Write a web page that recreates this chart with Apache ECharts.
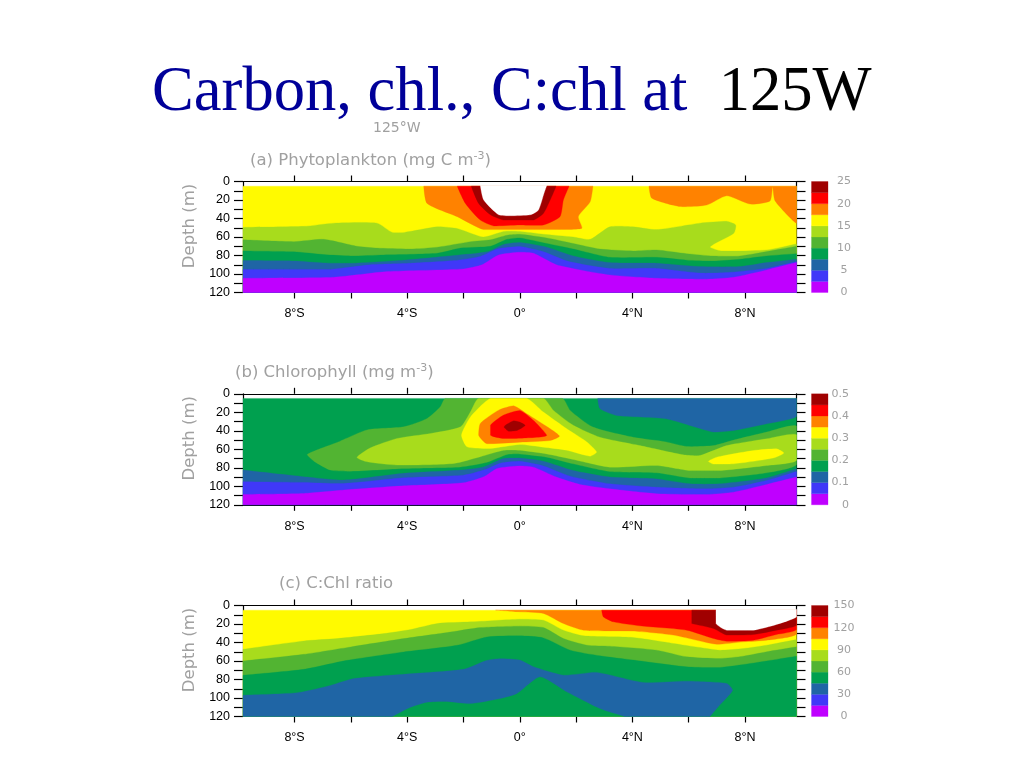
<!DOCTYPE html>
<html>
<head>
<meta charset="utf-8">
<title>Carbon, chl., C:chl at 125W</title>
<script src="https://cdn.jsdelivr.net/npm/echarts@6/dist/echarts.min.js"></script>
<style>
  html, body { margin: 0; padding: 0; background: #fff; }
  #chart { width: 1024px; height: 768px; }
</style>
</head>
<body>
<div id="chart"></div>
<script type="text/javascript">
// axis values
var latMin = -9.83, latMax = 9.83;
var latLabels = [-8, -4, 0, 4, 8];
var latTicks = [-8, -6, -4, -2, 0, 2, 4, 6, 8];

// contour colours, index 0 = lowest band
var bandColors = ['#bf00ff', '#4038f8', '#1f65a5', '#00a04f', '#52b432',
                  '#a8dc1c', '#fffa00', '#ff8200', '#ff0000', '#a00000'];

// colour bar edges and labels
var barA = [0, 2.5, 5, 7.5, 10, 12.5, 15, 17.5, 20, 22.5, 25];
var barB = [0, 0.05, 0.1, 0.15, 0.2, 0.25, 0.3, 0.35, 0.4, 0.45, 0.5];
var barC = [0, 15, 30, 45, 60, 75, 90, 105, 120, 135, 150];
var barLabelsA = [0, 5, 10, 15, 20, 25];
var barLabelsB = [0, 0.1, 0.2, 0.3, 0.4, 0.5];
var barLabelsC = [0, 30, 60, 90, 120, 150];

// (a) phytoplankton carbon: [lat, depth] outlines
var aYellow = [[-9.83,5],[9.83,5],[9.83,120],[-9.83,120]];
var aLime = [[-9.83,49.6],[-7.67,48.5],[-6.6,45],[-5.07,45],[-4.53,55],[-4.1,55],[-2.93,49],[-2.2,51],[-1.3,60],[-0.57,54],[0,54],[0.84,57],[1.9,60],[2.5,62.5],[3.2,49],[4.03,49],[4.86,52],[6.4,45],[7.35,43],[7.67,47],[7.6,56],[6.9,67.5],[6.76,71],[7.15,75],[8.77,74],[9.83,67.5]];
var aMid = [[-9.83,63],[-8.02,65],[-6.96,62.5],[-5.78,70],[-5.07,72],[-3.88,73],[-2.93,71],[-1.75,65],[-1.04,63],[-0.45,58],[0,57],[0.96,61],[1.9,67],[2.85,73],[4.03,75],[4.86,74],[5.93,78],[6.88,80.5],[7.82,80.5],[9.83,70]];
var aGreen = [[-9.83,75],[-8.02,76],[-6.96,79],[-6,80.5],[-4.83,79.4],[-2.93,77.6],[-2.1,72],[-1.04,70],[-0.45,62.5],[0,61],[0.96,67],[1.9,73],[3.2,82],[4.86,82],[5.93,85],[6.88,86],[7.82,84],[8.77,80.5],[9.83,78]];
var aTeal = [[-9.83,85.5],[-8.02,86],[-6.96,88],[-6,88.4],[-4.12,85],[-2.34,80],[-1.16,76],[-0.57,68],[0,66],[0.96,71],[1.9,80.5],[3.2,87.7],[4.86,88.4],[6.4,92],[7.82,92],[8.77,87.7],[9.83,84]];
var aBlue = [[-9.83,95],[-8.02,95],[-6.72,95],[-5.3,90],[-3.88,88.4],[-2.34,85.5],[-1.4,81],[-0.8,73],[0,70.4],[0.84,76],[1.75,86.6],[3.2,94],[4.86,94],[6.4,99],[7.35,98.5],[8.77,94],[9.83,86.6]];
var aPurple = [[-9.83,104.6],[-6.6,103.5],[-4.71,97.4],[-2,94.5],[-1.34,90],[-0.75,79.4],[0,76.5],[0.49,77.6],[1.3,90],[2.14,95.6],[3.2,101],[4.86,104.6],[6.64,105.6],[7.6,103.5],[8.77,95.6],[9.83,87.7]];
var aOrange = [[-3.41,5],[-3.29,23.7],[-2.22,38],[-1.28,52],[0,52],[1.08,52],[2.2,50.7],[2.08,38],[2.5,22],[2.6,5]];
var aRed = [[-2.22,5],[-1.93,23.7],[-1.4,41.7],[-0.92,48],[0,47],[0.84,47],[1.43,38],[1.55,20],[1.75,5]];
var aDark = [[-1.72,5],[-1.46,23.7],[-1.04,36],[-0.57,41.7],[0,41.7],[0.49,41.7],[0.84,34.5],[1.08,20],[1.29,5]];
var aHole = [[-1.4,4],[-1.28,20],[-0.75,36],[-0.33,37],[0.37,36],[0.66,31],[0.86,13],[0.96,4]];
var aOrangeNorth = [[4.59,5],[4.69,18],[5.69,27],[6.64,25.5],[7.35,15.5],[8.18,24.4],[8.89,21],[8.98,6],[9.07,21],[9.83,45],[9.83,5]];

// (b) chlorophyll
var bGreen = [[-9.83,5],[9.83,5],[9.83,120],[-9.83,120]];
var bTealTop = [[2.77,5],[2.85,16],[3.44,23.4],[5.2,27],[6.88,41.4],[7.6,39.6],[8.77,32.4],[9.83,24.5],[9.83,5]];
var bMid = [[-2.64,5],[-2.82,14],[-3.29,26.7],[-4.12,35.7],[-5.42,39],[-6.49,52.6],[-7.55,65.6],[-7.31,72.8],[-6.72,82.5],[-6,83.6],[-4.12,80.7],[-2.1,79],[-1.16,74],[-0.45,65.6],[0,65],[0.96,68.5],[1.9,75.7],[3.2,84],[4.86,85.4],[6.05,91],[7.1,91],[8.77,85.4],[9.83,76.4],[9.83,35],[8.77,41.4],[7.6,50],[6.88,56],[5.93,57],[5.2,52],[4.03,47],[2.6,36],[1.79,18],[1.51,5]];
var bLime = [[-1.46,5],[-1.75,19.5],[-2.1,35.7],[-3.17,42.9],[-4.36,48.3],[-5.3,58.4],[-5.78,68.8],[-5.42,73.5],[-4.36,77],[-2.34,75.3],[-1.4,68],[-0.57,61],[0,61],[0.96,65],[1.9,71],[3.2,79.3],[4.86,77.5],[6.05,83],[7.1,83],[8.77,77.5],[9.83,72],[9.83,44.3],[8.77,48.6],[7.35,56],[6.4,66.7],[5.81,66],[4.27,56],[2.85,47],[1.9,34],[1.2,18],[0.84,5]];
var bYellow = [[-1.04,5],[-1.75,25],[-2.07,44.7],[-1.87,57.3],[-1.04,59],[0,54.8],[0.84,57.7],[1.67,61],[2.5,67.4],[2.73,63],[2.38,52],[1.67,37.8],[0.84,19.8],[0.25,5]];
var bYellowNorth = [[6.7,73],[7,68.5],[8.3,61.3],[9.12,59.5],[9.38,64],[9,69.5],[7.6,75.7],[6.88,76]];
var bOrange = [[-0.22,13],[-0.75,17.7],[-1.4,32],[-1.46,44.7],[-1.16,54],[0,52.3],[1.08,50.5],[1.41,45.8],[1.08,37.8],[0.25,21.6]];
var bRed = [[0,18],[-0.57,23],[-1.04,33.9],[-1.04,44.7],[-0.57,48.3],[0,48],[0.96,45],[0.49,28.8]];
var bDark = [[-0.51,33.9],[-0.21,29.2],[0,30.6],[0.19,34.2],[-0.1,39.6],[-0.4,40.4],[-0.56,36]];
var bTeal = [[-9.83,82.5],[-7.67,89.7],[-6.25,93.3],[-4.12,86],[-2.1,82.5],[-1.28,79],[-0.57,70],[0,69.5],[0.84,73],[1.9,83],[3.2,90],[4.86,92],[6.05,97.3],[7.1,97.3],[8.77,91],[9.83,81]];
var bBlue = [[-9.83,95],[-7.67,95.9],[-6.25,97],[-4.12,90.8],[-2,88],[-1.28,82.5],[-0.69,75],[0,73],[0.84,78],[1.79,89],[3.2,97.3],[4.86,101],[6.64,102.7],[7.6,101],[8.77,93.7],[9.83,84]];
var bPurple = [[-9.83,108.8],[-7.67,107.7],[-6.25,104],[-4.12,99.5],[-2,96.2],[-1.28,89.7],[-0.8,80.7],[0,78],[0.49,79.3],[1.3,90],[2.14,98],[3.2,102.7],[4.86,108],[6.64,108.8],[7.6,106.3],[8.77,98],[9.83,90]];

// (c) C:Chl ratio
var cYellow = [[-9.83,5],[9.83,5],[9.83,120],[-9.83,120]];
var cLime = [[-9.83,47.3],[-7.67,38.3],[-6.49,35.8],[-4.83,30.4],[-3.88,26],[-2.93,19.5],[-1.75,17.7],[0,14.8],[0.84,15.9],[1.55,26.7],[2.27,32.8],[4.03,34.6],[5.45,41],[6.4,45.4],[7.1,48.3],[7.94,46.5],[8.77,42.9],[9.83,36.8]];
var cMid = [[-9.83,60],[-7.67,52.8],[-6,44.8],[-4.12,35.8],[-2.58,29.3],[-1.4,23.9],[0,22.3],[0.84,23.8],[1.55,35.7],[2.39,42.9],[3.2,44],[4.86,48.3],[5.93,55.5],[7.1,57.3],[7.94,54.8],[8.77,50],[9.83,44.7]];
var cGreen = [[-9.83,75.5],[-7.67,69],[-6.13,59.3],[-4.12,50.2],[-2.22,43],[-1.16,34],[0,32.8],[0.84,35],[1.79,48.3],[2.85,54.4],[4.03,59],[5.93,66.3],[7.1,67],[8.18,62.7],[9.83,54.8]];
var cTeal = [[-9.83,97],[-9.83,97],[-7.9,94.3],[-6.72,86.4],[-5.89,79],[-4.12,74.4],[-2,69],[-1.16,59.3],[-0.69,57.5],[0,59],[0.49,66.3],[1.55,75.3],[2.73,72.4],[4.38,83.2],[5.93,81.8],[7.35,84.3],[7.56,91.5],[7.1,107.7],[6.76,120],[6.76,120],[3.73,120],[3.73,120],[2.85,111.4],[1.67,93.3],[0.72,77],[-0.1,95],[-0.7,100.5],[-1.75,106],[-2.58,103.7],[-3.29,104.5],[-3.88,110],[-4.53,120],[-4.53,120],[-9.83,120],[-9.83,120]];
var cOrange = [[-0.86,5],[0,6.8],[0.84,8.6],[1.55,19.5],[2.27,26.7],[4.03,27.7],[5.45,32],[7,42],[7.94,39.3],[8.77,37.5],[9.83,31],[9.83,5]];
var cRed = [[2.91,5],[2.97,12.3],[3.33,17.7],[4.27,22],[5.93,26.7],[6.88,35.7],[7.35,38.6],[8.3,37.5],[9.12,31.4],[9.83,26],[9.83,5]];
var cDark = [[6.11,5],[6.11,5],[6.11,19.5],[6.11,19.5],[6.88,24.9],[7.35,32],[8.3,31.4],[9.12,26.7],[9.83,21.3],[9.83,5]];
var cHole = [[6.97,4],[6.97,4],[6.97,19.5],[7.35,26.7],[8.3,26.7],[9.12,20.5],[9.83,12.3],[9.83,4]];

var textGray = '#a0a0a0';
var labelFont = 'Liberation Sans';
var thinFont = 'DejaVu Sans';

// a curve running across the section, filled down to the bottom of the axis
// (its ends and the corners are doubled so the smoothing leaves them square)
function under(curve) {
    var first = curve[0], last = curve[curve.length - 1];
    var left = [first[0], 120], right = [last[0], 120];
    return [first].concat(curve, [last, right, right, left, left]);
}

function latName(v) {
    if (v === 0) return '0°';
    return Math.abs(v) + '°' + (v < 0 ? 'S' : 'N');
}

// layers are painted in order: [band colour, outline]
var panelA = [
    [bandColors[6], aYellow], [bandColors[5], under(aLime)], [bandColors[4], under(aMid)],
    [bandColors[3], under(aGreen)], [bandColors[2], under(aTeal)], [bandColors[1], under(aBlue)],
    [bandColors[0], under(aPurple)], [bandColors[7], aOrange], [bandColors[7], aOrangeNorth],
    [bandColors[8], aRed], [bandColors[9], aDark], ['#fff', aHole]
];
var panelB = [
    [bandColors[3], bGreen], [bandColors[2], bTealTop], [bandColors[4], bMid],
    [bandColors[5], bLime], [bandColors[6], bYellow], [bandColors[6], bYellowNorth],
    [bandColors[7], bOrange], [bandColors[8], bRed], [bandColors[9], bDark],
    [bandColors[2], under(bTeal)], [bandColors[1], under(bBlue)], [bandColors[0], under(bPurple)]
];
var panelC = [
    [bandColors[6], cYellow], [bandColors[5], under(cLime)], [bandColors[4], under(cMid)],
    [bandColors[3], under(cGreen)], [bandColors[2], cTeal], [bandColors[7], cOrange],
    [bandColors[8], cRed], [bandColors[9], cDark], ['#fff', cHole]
];

// smallest box around the points, keeps the smoothed outline from overshooting
function boxOf(points) {
    var xs = points.map(function (p) { return p[0]; });
    var ys = points.map(function (p) { return p[1]; });
    return [[Math.min.apply(null, xs), Math.min.apply(null, ys)],
            [Math.max.apply(null, xs), Math.max.apply(null, ys)]];
}

function polygonSeries(layers, axisIndex, smooth) {
    return {
        type: 'custom',
        coordinateSystem: 'cartesian2d',
        xAxisIndex: axisIndex,
        yAxisIndex: axisIndex,
        silent: true,
        data: layers.map(function (l, i) { return [i]; }),
        renderItem: function (params, api) {
            var layer = layers[params.dataIndex];
            var points = layer[1].map(function (p) { return api.coord(p); });
            var shape = { points: points };
            if (smooth && points.length > 4) {
                shape.smooth = smooth;
                shape.smoothConstraint = boxOf(points);
            }
            return {
                type: 'polygon',
                shape: shape,
                style: { fill: layer[0], stroke: layer[0], lineWidth: 0.3 }
            };
        }
    };
}

function barLayers(edges) {
    var layers = [];
    for (var i = 0; i < edges.length - 1; i++) {
        layers.push([bandColors[i], [[0, edges[i]], [1, edges[i]], [1, edges[i + 1]], [0, edges[i + 1]]]]);
    }
    return layers;
}

var panelTops = [181.5, 393.8, 605.5];
var panelData = [panelA, panelB, panelC];
var barData = [barA, barB, barC];
var barLabels = [barLabelsA, barLabelsB, barLabelsC];
var barAlign = ['center', 'right', 'center'];
var barMargin = [16, 21, 16];

var grids = [], xAxes = [], yAxes = [], series = [];
panelTops.forEach(function (t) {
    grids.push({ left: 243, width: 553.5, top: t, height: 111 });
});
panelTops.forEach(function (t) {
    grids.push({ left: 811.5, width: 16.5, top: t, height: 111 });
});

var axisStroke = { color: '#000', width: 1.2 };
for (var i = 0; i < 3; i++) {
    xAxes.push({
        gridIndex: i, type: 'value', position: 'bottom', min: latMin, max: latMax,
        splitLine: { show: false },
        axisLine: { onZero: false, lineStyle: axisStroke },
        axisTick: { length: 6, lineStyle: axisStroke, customValues: latTicks },
        axisLabel: {
            customValues: latLabels, formatter: latName, margin: 15,
            color: '#000', fontFamily: labelFont, fontSize: 12.5
        }
    });
    yAxes.push({
        gridIndex: i, type: 'value', position: 'left', inverse: true, min: 0, max: 120, interval: 20,
        name: 'Depth (m)', nameLocation: 'middle', nameGap: 43, nameRotate: 90,
        nameTextStyle: { color: textGray, fontFamily: thinFont, fontSize: 16.5, padding: [0, 0, 0, 22] },
        splitLine: { show: false },
        axisLine: { onZero: false, lineStyle: axisStroke },
        axisTick: { length: 9, lineStyle: axisStroke },
        minorTick: { show: true, splitNumber: 2, length: 9, lineStyle: axisStroke },
        axisLabel: { margin: 13, color: '#000', fontFamily: labelFont, fontSize: 12.5 }
    });
}
for (var i = 0; i < 3; i++) {
    xAxes.push({
        gridIndex: i, type: 'value', position: 'top', min: latMin, max: latMax,
        splitLine: { show: false },
        axisLine: { onZero: false, lineStyle: axisStroke },
        axisTick: { length: 6, lineStyle: axisStroke, customValues: latTicks },
        axisLabel: { show: false }
    });
    yAxes.push({
        gridIndex: i, type: 'value', position: 'right', inverse: true, min: 0, max: 120, interval: 20,
        splitLine: { show: false },
        axisLine: { onZero: false, lineStyle: axisStroke },
        axisTick: { length: 9, lineStyle: axisStroke },
        minorTick: { show: true, splitNumber: 2, length: 9, lineStyle: axisStroke },
        axisLabel: { show: false }
    });
}
for (var i = 0; i < 3; i++) {
    xAxes.push({ gridIndex: 3 + i, type: 'value', min: 0, max: 1, show: false });
    yAxes.push({
        gridIndex: 3 + i, type: 'value', position: 'right', min: 0, max: barData[i][barData[i].length - 1],
        splitLine: { show: false }, axisLine: { show: false }, axisTick: { show: false },
        axisLabel: {
            customValues: barLabels[i], margin: barMargin[i], align: barAlign[i], color: textGray,
            fontFamily: thinFont, fontSize: 11
        }
    });
}

for (var i = 0; i < 3; i++) series.push(polygonSeries(panelData[i], i, 0.2));
for (var i = 0; i < 3; i++) series.push(polygonSeries(barLayers(barData[i]), 6 + i, 0));

var panelTitle = function (left, y, text, size) {
    return {
        left: left, top: y, text: text, padding: 0,
        textStyle: {
            color: textGray, fontFamily: thinFont, fontWeight: 'normal', fontSize: size,
            rich: { sup: { color: textGray, fontFamily: thinFont, fontSize: 11, verticalAlign: 'top', padding: [0, 0, 8, 0] } }
        }
    };
};

var myChart = echarts.init(document.getElementById('chart'));
myChart.setOption({
    backgroundColor: '#fff',
    animation: false,
    title: [
        {
            left: 152, top: 62, padding: 0,
            text: '{a|Carbon, chl., C:chl at}{b|  125W}',
            textStyle: {
                rich: {
                    a: { color: '#000099', fontFamily: 'Liberation Serif', fontWeight: 'normal', fontSize: 62.6 },
                    b: { color: '#000', fontFamily: 'Liberation Serif', fontWeight: 'normal', fontSize: 62.6 }
                }
            }
        },
        panelTitle(373, 121, '125°W', 14),
        panelTitle(250, 151, '(a) Phytoplankton (mg C m{sup|-3})', 16.5),
        panelTitle(235, 363, '(b) Chlorophyll (mg m{sup|-3})', 16.5),
        panelTitle(279, 575, '(c) C:Chl ratio', 16.5)
    ],
    grid: grids,
    xAxis: xAxes,
    yAxis: yAxes,
    series: series
});
</script>
</body>
</html>
